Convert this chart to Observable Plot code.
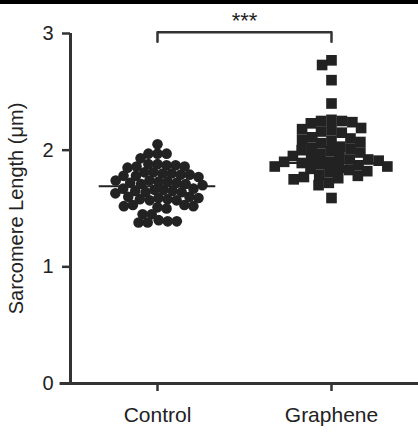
<!DOCTYPE html>
<html><head><meta charset="utf-8">
<script src="https://cdn.jsdelivr.net/npm/d3@7"></script>
<script src="https://cdn.jsdelivr.net/npm/@observablehq/plot@0.6"></script>
<style>
html,body{margin:0;padding:0;background:#fff;}
#topband{height:4px;background:#000;}
</style></head><body>
<div id="topband"></div><div id="chart"></div>
<script>
const groups = ["Control", "Graphene"];
const controlValues = [
  2.05,
  1.97, 1.97, 1.97, 1.93,
  1.88, 1.88, 1.87, 1.87, 1.86, 1.86, 1.85,
  1.81, 1.81, 1.80, 1.80, 1.79, 1.79, 1.78, 1.78, 1.77,
  1.74, 1.74, 1.73, 1.73, 1.72, 1.72, 1.71, 1.71, 1.70,
  1.67, 1.67, 1.66, 1.66, 1.65, 1.65, 1.64, 1.64, 1.63,
  1.60, 1.60, 1.59, 1.59, 1.58, 1.58, 1.57, 1.57,
  1.53, 1.53, 1.52, 1.52, 1.51, 1.50,
  1.45, 1.45,
  1.40, 1.39, 1.39, 1.38, 1.38
];
const grapheneValues = [
  2.77, 2.73, 2.60, 2.40,
  2.26, 2.25, 2.25, 2.24, 2.23,
  2.19, 2.18, 2.17, 2.16, 2.15,
  2.11, 2.10, 2.09, 2.08, 2.07, 2.06,
  2.03, 2.02, 2.01, 2.00, 1.99, 1.98, 1.97,
  1.95, 1.94, 1.93, 1.92, 1.92, 1.91, 1.90, 1.90, 1.89, 1.88,
  1.87, 1.86, 1.86, 1.85, 1.84, 1.83, 1.82, 1.81,
  1.79, 1.78, 1.77, 1.76, 1.75,
  1.72, 1.70,
  1.59
];
const groupMeans = [1.69, 1.89];
const yTicks = [0, 1, 2, 3];
const yLabel = "Sarcomere Length (μm)";
const significance = "***";
const bracketTop = 3.01;
const bracketFoot = 2.93;
const starsLevel = 3.11;

const points = [
  ...controlValues.map(v => ({group: "Control", value: v})),
  ...grapheneValues.map(v => ({group: "Graphene", value: v}))
];
const meanRows = groups.map((g, i) => ({group: g, value: groupMeans[i]}));
const bracket = [
  {group: "Control", x: 0, y: bracketFoot},
  {group: "Control", x: 0, y: bracketTop},
  {group: "Control", x: 1, y: bracketTop},
  {group: "Control", x: 1, y: bracketFoot}
];
const font = "'Liberation Sans', Arial, Helvetica, sans-serif";
const ink = "#222";
const axisInk = "#333";

const chart = Plot.plot({
  width: 418, height: 429,
  marginTop: 29, marginBottom: 50, marginLeft: 70, marginRight: 0,
  style: {fontFamily: font, fontSize: "20px", color: ink, background: "#fff", overflow: "visible"},
  fx: {domain: groups, padding: 0, label: null},
  x: {domain: [-0.5, 0.5], axis: null},
  y: {domain: [0, 3], label: null},
  marks: [
    Plot.axisY({ticks: yTicks, tickSize: 8, tickPadding: 9, strokeWidth: 2.5, stroke: axisInk, fill: ink,
      tickFormat: d => d, label: yLabel, labelAnchor: "center", labelOffset: 62, labelArrow: "none"}),
    Plot.axisFx({anchor: "bottom", tickSize: 8, tickPadding: 16, strokeWidth: 2.5, stroke: axisInk, fill: ink, fontSize: 21, label: null}),
    Plot.ruleX([{group: "Control"}], {fx: "group", x: -0.5, y1: 0, y2: 3, stroke: axisInk, strokeWidth: 3}),
    Plot.ruleY([{group: "Control"}], {fx: "group", y: 0, x1: -0.56, x2: 1.5, stroke: axisInk, strokeWidth: 3}),
    Plot.line(bracket, {fx: "group", x: "x", y: "y", stroke: axisInk, strokeWidth: 2.5}),
    Plot.text([{group: "Control"}], {fx: "group", x: 0.5, y: starsLevel, text: () => significance, fontSize: 22, fill: ink}),
    Plot.dot(points.filter(d => d.group === "Control"), Plot.dodgeX({anchor: "middle", padding: -1.5,
      fx: "group", y: "value", r: 5.3, fill: ink, symbol: "circle"})),
    Plot.dot(points.filter(d => d.group === "Graphene"), Plot.dodgeX({anchor: "middle", padding: -1.5,
      fx: "group", y: "value", r: 6, fill: ink, symbol: "square"})),
    Plot.ruleY(meanRows, {fx: "group", y: "value", x1: -0.335, x2: 0.335, stroke: ink, strokeWidth: 2})
  ]
});
document.getElementById("chart").append(chart);
</script>
</body></html>
